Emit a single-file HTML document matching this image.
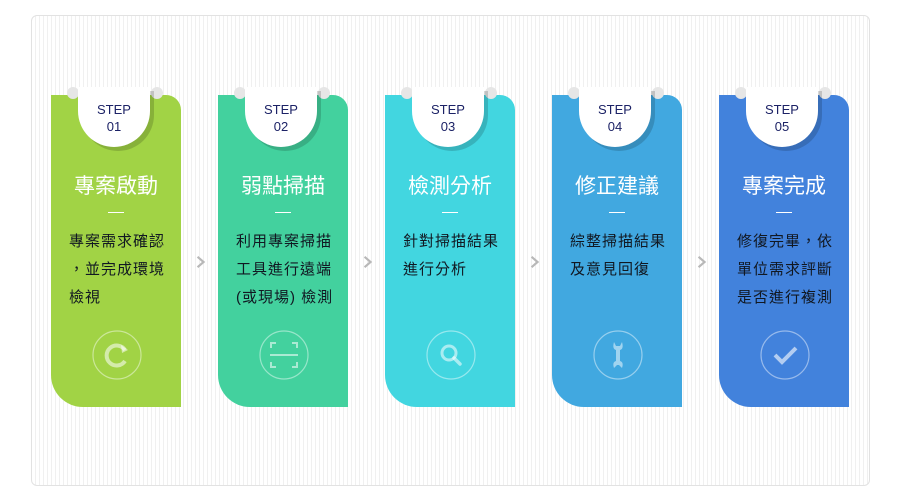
<!DOCTYPE html>
<html><head><meta charset="utf-8"><style>
*{margin:0;padding:0;box-sizing:border-box}
body{width:900px;height:500px;background:#fff;position:relative;overflow:hidden;font-family:"Liberation Sans","Noto Sans CJK TC",sans-serif}
.wrap{position:absolute;left:31px;top:15px;width:839px;height:471px;border:1px solid #e2e2e2;border-radius:6px;background:repeating-linear-gradient(90deg,#fff 0,#fff 3px,#f0f0f0 3px,#f0f0f0 4px)}
.card{position:absolute;top:95px;width:130px;height:312px;border-radius:0 15px 0 32px}
.dot{position:absolute;top:87px;width:12px;height:12px;border-radius:50%;background:#e6e6e6}
.tab{position:absolute;top:87px;width:72px;height:60px;background:#fff;border-radius:0 0 36px 36px;box-shadow:4px 4px 0 rgba(0,0,0,0.16);text-align:center;color:#1c2266;font-size:13px;line-height:17px;padding-top:14px}
.ttl{position:absolute;top:174px;width:130px;text-align:center;color:#fff;font-size:21px;line-height:26px}
.dash{position:absolute;top:212px;width:16px;height:1px;background:#fff}
.txt{position:absolute;top:228px;width:130px;padding-left:18px;text-align:left;color:#111822;font-size:15px;line-height:28px;letter-spacing:1px}
.ic{position:absolute;top:330px;width:50px;height:50px}
.chev{position:absolute;top:248px;width:12px;height:12px}
</style></head><body>
<div class="wrap"></div>

<div class="card" style="left:51px;background:#a1d345"></div>
<div class="card" style="left:218px;background:#43d19e"></div>
<div class="card" style="left:385px;background:#42d6e0"></div>
<div class="card" style="left:552px;background:#41a8e0"></div>
<div class="card" style="left:719px;background:#4282dc"></div>

<div class="dot" style="left:67px"></div><div class="dot" style="left:151px"></div>
<div class="dot" style="left:234px"></div><div class="dot" style="left:318px"></div>
<div class="dot" style="left:401px"></div><div class="dot" style="left:485px"></div>
<div class="dot" style="left:568px"></div><div class="dot" style="left:652px"></div>
<div class="dot" style="left:735px"></div><div class="dot" style="left:819px"></div>

<div class="tab" style="left:78px">STEP<br>01</div>
<div class="tab" style="left:245px">STEP<br>02</div>
<div class="tab" style="left:412px">STEP<br>03</div>
<div class="tab" style="left:579px">STEP<br>04</div>
<div class="tab" style="left:746px">STEP<br>05</div>

<div class="ttl" style="left:51px">專案啟動</div>
<div class="ttl" style="left:218px">弱點掃描</div>
<div class="ttl" style="left:385px">檢測分析</div>
<div class="ttl" style="left:552px">修正建議</div>
<div class="ttl" style="left:719px">專案完成</div>

<div class="dash" style="left:108px"></div>
<div class="dash" style="left:275px"></div>
<div class="dash" style="left:442px"></div>
<div class="dash" style="left:609px"></div>
<div class="dash" style="left:776px"></div>

<div class="txt" style="left:51px">專案需求確認<br>，並完成環境<br>檢視</div>
<div class="txt" style="left:218px">利用專案掃描<br>工具進行遠端<br>(或現場) 檢測</div>
<div class="txt" style="left:385px">針對掃描結果<br>進行分析</div>
<div class="txt" style="left:552px">綜整掃描結果<br>及意見回復</div>
<div class="txt" style="left:719px">修復完畢，依<br>單位需求評斷<br>是否進行複測</div>

<svg class="ic" style="left:92px" viewBox="0 0 50 50"><circle cx="25" cy="25" r="24" fill="none" stroke="rgba(255,255,255,0.45)" stroke-width="1.2"/><path d="M33 20 A10 10 0 1 0 33 31" fill="none" stroke="rgba(255,255,255,0.55)" stroke-width="4"/><path d="M29 15 L36 20 L30 23Z" fill="rgba(255,255,255,0.55)"/></svg>
<svg class="ic" style="left:259px" viewBox="0 0 50 50"><circle cx="25" cy="25" r="24" fill="none" stroke="rgba(255,255,255,0.45)" stroke-width="1.2"/><path d="M12 18V13H17M33 13H38V18M38 32V37H33M17 37H12V32" fill="none" stroke="rgba(255,255,255,0.55)" stroke-width="2"/><line x1="11" y1="25" x2="39" y2="25" stroke="rgba(255,255,255,0.55)" stroke-width="2"/></svg>
<svg class="ic" style="left:426px" viewBox="0 0 50 50"><circle cx="25" cy="25" r="24" fill="none" stroke="rgba(255,255,255,0.45)" stroke-width="1.2"/><circle cx="23" cy="23" r="7" fill="none" stroke="rgba(255,255,255,0.55)" stroke-width="3"/><line x1="28" y1="28" x2="34" y2="34" stroke="rgba(255,255,255,0.55)" stroke-width="3.5" stroke-linecap="round"/></svg>
<svg class="ic" style="left:593px" viewBox="0 0 50 50"><circle cx="25" cy="25" r="24" fill="none" stroke="rgba(255,255,255,0.45)" stroke-width="1.2"/><path d="M21 12 Q19 19 23 20 L23 31 Q19 32 21 38 L24 35 L26 35 L29 38 Q31 32 27 31 L27 20 Q31 19 29 12 L27 16 L23 16Z" fill="rgba(255,255,255,0.5)"/></svg>
<svg class="ic" style="left:760px" viewBox="0 0 50 50"><circle cx="25" cy="25" r="24" fill="none" stroke="rgba(255,255,255,0.45)" stroke-width="1.2"/><path d="M15 25 L22 32 L36 18" fill="none" stroke="rgba(255,255,255,0.6)" stroke-width="4"/></svg>

<svg class="chev" style="left:195px;top:256px" viewBox="0 0 12 14"><path d="M2 1 L9 7 L2 13" fill="none" stroke="#b8b8b8" stroke-width="2.5"/></svg>
<svg class="chev" style="left:362px;top:256px" viewBox="0 0 12 14"><path d="M2 1 L9 7 L2 13" fill="none" stroke="#b8b8b8" stroke-width="2.5"/></svg>
<svg class="chev" style="left:529px;top:256px" viewBox="0 0 12 14"><path d="M2 1 L9 7 L2 13" fill="none" stroke="#b8b8b8" stroke-width="2.5"/></svg>
<svg class="chev" style="left:696px;top:256px" viewBox="0 0 12 14"><path d="M2 1 L9 7 L2 13" fill="none" stroke="#b8b8b8" stroke-width="2.5"/></svg>
</body></html>
